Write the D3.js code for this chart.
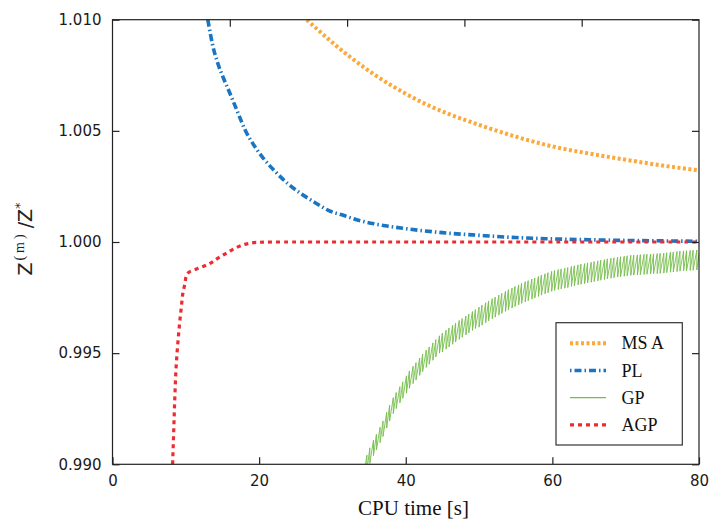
<!DOCTYPE html>
<html><head><meta charset="utf-8">
<script src="https://cdn.jsdelivr.net/npm/d3@7"></script>
<style>body{margin:0;background:#fff}svg{display:block}</style>
</head><body>
<svg id="c" width="710" height="523"></svg>
<script>
// ---- data ----
const xTicks = [0, 20, 40, 60, 80];
const xTopTicks = [16, 32, 48, 64];
const yTicks = [0.990, 0.995, 1.000, 1.005, 1.010];
const seriesNames = ["MS A", "PL", "GP", "AGP"];

const msaX = [26.5, 28, 30, 32, 34, 36, 38, 40, 43, 46, 50, 55, 60, 65, 70, 75, 80];
const msaY = [1.01000, 1.00955, 1.00897, 1.00843, 1.00793, 1.00747, 1.00705, 1.00667, 1.00616, 1.00574, 1.00527, 1.00474, 1.00430, 1.00398, 1.00370, 1.00344, 1.00322];

const plX = [13.0, 13.7, 14.4, 15.1, 16, 17, 18, 19.2, 20.5, 22.4, 24, 25.6, 27.5, 29.6, 31.5, 33.3, 36.5, 40, 45, 50, 55, 60, 65, 70, 75, 80];
const plY = [1.0100, 1.0088, 1.0080, 1.0074, 1.0067, 1.0059, 1.0051, 1.0044, 1.0038, 1.0031, 1.0026, 1.0022, 1.0018, 1.0014, 1.0012, 1.0010, 1.00077, 1.0006, 1.00042, 1.0003, 1.0002, 1.00014, 1.0001, 1.00007, 1.00005, 1.00003];

const agpX = [8.2, 8.35, 8.5, 8.7, 8.95, 9.2, 9.4, 9.6, 9.86, 10.1, 10.5, 12, 13.3, 14.5, 15.5, 16.5, 17.4, 18.5, 19.6, 22, 80];
const agpY = [0.9900, 0.9915, 0.9930, 0.9945, 0.9956, 0.9965, 0.9971, 0.9977, 0.9981, 0.9985, 0.99866, 0.99885, 0.99904, 0.9993, 0.99949, 0.99968, 0.99982, 0.99993, 0.99998, 1.0000, 1.0000];

const gpX = [34.2, 34.7, 35.1, 35.6, 36.0, 36.5, 36.9, 37.4, 37.8, 38.3, 38.7, 39.2, 39.6, 40.1, 40.5, 41.0, 41.4, 41.9, 42.3, 42.8, 43.2, 43.7, 44.1, 44.6, 45.0, 45.5, 45.9, 46.4, 46.8, 47.3, 47.7, 48.2, 48.6, 49.1, 49.5, 50.0, 50.4, 50.9, 51.3, 51.8, 52.2, 52.7, 53.1, 53.6, 54.0, 54.5, 54.9, 55.4, 55.8, 56.3, 56.7, 57.2, 57.6, 58.1, 58.5, 59.0, 59.4, 59.9, 60.3, 60.8, 61.2, 61.7, 62.1, 62.6, 63.0, 63.5, 63.9, 64.4, 64.8, 65.3, 65.7, 66.2, 66.6, 67.1, 67.5, 68.0, 68.4, 68.9, 69.3, 69.8, 70.2, 70.7, 71.1, 71.6, 72.0, 72.5, 72.9, 73.4, 73.8, 74.3, 74.7, 75.2, 75.6, 76.1, 76.5, 77.0, 77.4, 77.9, 78.3, 78.8, 79.2, 79.7, 80.1];
const gpHi = [0.99000, 0.99041, 0.99074, 0.99109, 0.99135, 0.99167, 0.99195, 0.99234, 0.99266, 0.99300, 0.99323, 0.99349, 0.99371, 0.99398, 0.99420, 0.99441, 0.99457, 0.99478, 0.99495, 0.99514, 0.99528, 0.99546, 0.99561, 0.99578, 0.99590, 0.99603, 0.99613, 0.99625, 0.99635, 0.99647, 0.99656, 0.99667, 0.99676, 0.99687, 0.99696, 0.99707, 0.99716, 0.99727, 0.99735, 0.99745, 0.99752, 0.99761, 0.99769, 0.99778, 0.99785, 0.99793, 0.99800, 0.99807, 0.99814, 0.99821, 0.99826, 0.99833, 0.99838, 0.99845, 0.99851, 0.99857, 0.99862, 0.99868, 0.99872, 0.99876, 0.99879, 0.99882, 0.99885, 0.99890, 0.99893, 0.99897, 0.99900, 0.99903, 0.99906, 0.99909, 0.99912, 0.99915, 0.99918, 0.99921, 0.99924, 0.99927, 0.99929, 0.99932, 0.99934, 0.99936, 0.99938, 0.99940, 0.99941, 0.99942, 0.99943, 0.99944, 0.99945, 0.99946, 0.99947, 0.99948, 0.99949, 0.99950, 0.99952, 0.99954, 0.99955, 0.99957, 0.99959, 0.99960, 0.99961, 0.99962, 0.99963, 0.99964, 0.99965];
const gpLo = [0.98930, 0.98971, 0.99004, 0.99039, 0.99065, 0.99097, 0.99125, 0.99163, 0.99195, 0.99228, 0.99251, 0.99276, 0.99297, 0.99320, 0.99342, 0.99363, 0.99379, 0.99400, 0.99417, 0.99436, 0.99450, 0.99468, 0.99483, 0.99500, 0.99505, 0.99518, 0.99528, 0.99540, 0.99550, 0.99562, 0.99571, 0.99582, 0.99591, 0.99602, 0.99611, 0.99617, 0.99626, 0.99637, 0.99645, 0.99655, 0.99662, 0.99671, 0.99679, 0.99688, 0.99695, 0.99703, 0.99710, 0.99717, 0.99724, 0.99731, 0.99736, 0.99743, 0.99748, 0.99755, 0.99761, 0.99767, 0.99772, 0.99778, 0.99782, 0.99786, 0.99789, 0.99792, 0.99795, 0.99800, 0.99803, 0.99807, 0.99810, 0.99813, 0.99816, 0.99819, 0.99822, 0.99825, 0.99828, 0.99831, 0.99834, 0.99837, 0.99839, 0.99842, 0.99844, 0.99846, 0.99848, 0.99850, 0.99851, 0.99852, 0.99853, 0.99854, 0.99855, 0.99856, 0.99857, 0.99858, 0.99859, 0.99860, 0.99862, 0.99864, 0.99865, 0.99867, 0.99869, 0.99870, 0.99871, 0.99872, 0.99873, 0.99874, 0.99875];

// ---- layout ----
const PL_ = 112.5, PR_ = 699, PT_ = 19.7, PB_ = 464.3;
const svg = d3.select("#c");
const xs = d3.scaleLinear().domain([0, 80]).range([PL_, PR_]);
const ys = d3.scaleLinear().domain([0.990, 1.010]).range([PB_, PT_]);

svg.append("defs").append("clipPath").attr("id", "clip")
  .append("rect").attr("x", PL_).attr("y", PT_).attr("width", PR_ - PL_).attr("height", PB_ - PT_);

const mkLine = (curve) => d3.line().x(d => xs(d[0])).y(d => ys(d[1])).curve(curve);
const g = svg.append("g").attr("clip-path", "url(#clip)");

// GP sawtooth path built from the tooth arrays
const gpPts = [];
gpX.forEach((v, i) => { gpPts.push([v, gpHi[i]]); gpPts.push([v, gpLo[i]]); });

const colors = {msa: "#fca83a", pl: "#1a75c2", gp: "#74bd4a", agp: "#ee2b2f"};

g.append("path").datum(gpPts).attr("d", mkLine(d3.curveLinear))
  .attr("fill", "none").attr("stroke", colors.gp).attr("stroke-width", 0.9);
g.append("path").datum(msaX.map((v, i) => [v, msaY[i]])).attr("d", mkLine(d3.curveMonotoneX))
  .attr("fill", "none").attr("stroke", colors.msa).attr("stroke-width", 4).attr("stroke-dasharray", "3,2.5");
g.append("path").datum(plX.map((v, i) => [v, plY[i]])).attr("d", mkLine(d3.curveMonotoneX))
  .attr("fill", "none").attr("stroke", colors.pl).attr("stroke-width", 3.6).attr("stroke-dasharray", "7,3,1.5,3");
g.append("path").datum(agpX.map((v, i) => [v, agpY[i]])).attr("d", mkLine(d3.curveMonotoneY))
  .attr("fill", "none").attr("stroke", colors.agp).attr("stroke-width", 3.2).attr("stroke-dasharray", "4,4");

// ---- axes ----
svg.append("rect").attr("x", PL_).attr("y", PT_).attr("width", PR_ - PL_).attr("height", PB_ - PT_)
  .attr("fill", "none").attr("stroke", "#222").attr("stroke-width", 1.2);

const tk = 7;
const axB = d3.axisBottom(xs).tickValues(xTicks).tickSize(-tk).tickFormat(d3.format("d"));
const axT = d3.axisTop(xs).tickValues(xTopTicks).tickSize(-tk).tickFormat("");
const axL = d3.axisLeft(ys).tickValues(yTicks).tickSize(-tk).tickFormat(d3.format(".3f")).tickPadding(11);
const axR = d3.axisRight(ys).tickValues(yTicks).tickSize(-tk).tickFormat("");

function styleAxis(sel) {
  sel.select(".domain").remove();
  sel.selectAll(".tick line").attr("stroke", "#222").attr("stroke-width", 1.2);
  sel.selectAll(".tick text").attr("fill", "#1a1a1a").style("font-family", "'DejaVu Sans', sans-serif").style("font-size", "15px");
}
svg.append("g").attr("transform", `translate(0,${PB_})`).call(axB).call(styleAxis)
  .selectAll(".tick text").attr("dy", "0").attr("y", 22);
svg.append("g").attr("transform", `translate(0,${PT_})`).call(axT).call(styleAxis);
svg.append("g").attr("transform", `translate(${PL_},0)`).call(axL).call(styleAxis);
svg.append("g").attr("transform", `translate(${PR_},0)`).call(axR).call(styleAxis);

// axis labels
svg.append("text").attr("x", 413.5).attr("y", 515).attr("text-anchor", "middle")
  .style("font-family", "'Liberation Serif', serif").style("font-size", "21px").attr("fill", "#111")
  .text("CPU time [s]");

const yl = svg.append("text").attr("transform", "translate(32,239) rotate(-90)").attr("text-anchor", "middle")
  .style("font-family", "'DejaVu Sans', sans-serif").style("font-size", "19px").attr("fill", "#222");
yl.append("tspan").text("Z");
yl.append("tspan").attr("dy", -8).attr("dx", 2).style("font-size", "14px").style("letter-spacing", "3px")
  .style("font-family", "'Liberation Serif', serif").text("(m)");
yl.append("tspan").attr("dy", 8).attr("dx", 3).text("/Z");
yl.append("tspan").attr("dy", -8).style("font-size", "13px").text("*");

// ---- legend ----
const lg = svg.append("g");
lg.append("rect").attr("x", 556).attr("y", 322.7).attr("width", 126.3).attr("height", 122.3)
  .attr("fill", "#fff").attr("stroke", "#333").attr("stroke-width", 1.2);
const legendStyles = [
  {c: colors.msa, w: 4, d: "3,2.5"},
  {c: colors.pl, w: 3.6, d: "1.5,3,7,3"},
  {c: colors.gp, w: 1.2, d: null},
  {c: colors.agp, w: 3.2, d: "4,4"}
];
seriesNames.forEach((name, i) => {
  const cy = 343.3 + i * 27.2;
  const s = legendStyles[i];
  const ln = lg.append("line").attr("x1", 570).attr("x2", 606).attr("y1", cy).attr("y2", cy)
    .attr("stroke", s.c).attr("stroke-width", s.w);
  if (s.d) ln.attr("stroke-dasharray", s.d);
  lg.append("text").attr("x", 621.5).attr("y", cy + 6).text(name)
    .style("font-family", "'Liberation Serif', serif").style("font-size", "18px").attr("fill", "#111");
});
</script>
</body></html>
